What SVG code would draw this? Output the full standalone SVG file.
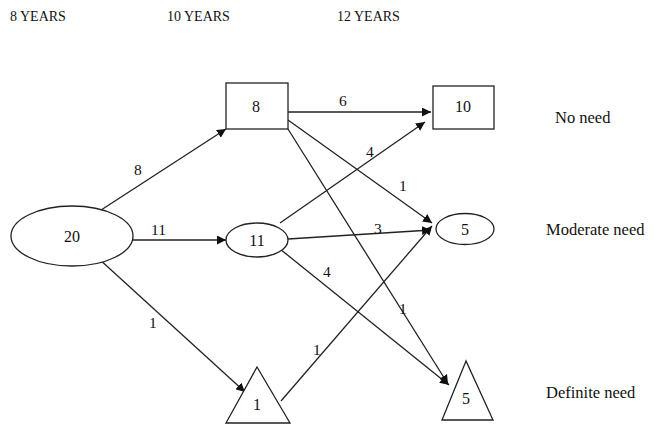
<svg xmlns="http://www.w3.org/2000/svg" width="662" height="425" viewBox="0 0 662 425">
<style>
text{font-family:"Liberation Serif","Times New Roman",serif;font-size:15.5px;fill:#111}
.hd{font-size:14px}
.nd{font-size:16px}
.rl{font-size:16.5px}
.shape{fill:#fff;stroke:#222;stroke-width:1.3}
.edge{stroke:#222;stroke-width:1.3;fill:none;marker-end:url(#ah)}
.c{text-anchor:middle}
</style>
<defs>
<marker id="ah" viewBox="0 0 10 10" refX="10" refY="5" markerWidth="9" markerHeight="9" markerUnits="userSpaceOnUse" orient="auto">
<path d="M0,0 L10,5 L0,10 z" fill="#111"/>
</marker>
</defs>
<rect width="662" height="425" fill="#fff"/>
<g id="headers">
<text class="hd" x="10" y="21">8 YEARS</text>
<text class="hd" x="167" y="21">10 YEARS</text>
<text class="hd" x="337" y="21">12 YEARS</text>
</g>
<g id="connectors">
<line class="edge" x1="98" y1="212" x2="226" y2="129"/>
<line class="edge" x1="115" y1="240" x2="226" y2="240"/>
<line class="edge" x1="98" y1="258" x2="245" y2="392"/>
<line class="edge" x1="288" y1="112" x2="431" y2="112"/>
<line class="edge" x1="288" y1="120" x2="432" y2="223"/>
<line class="edge" x1="288" y1="129" x2="448" y2="384"/>
<line class="edge" x1="280" y1="223" x2="425" y2="122"/>
<line class="edge" x1="288" y1="239" x2="431" y2="230"/>
<line class="edge" x1="280" y1="249" x2="449" y2="385"/>
<line class="edge" x1="281" y1="401" x2="432" y2="226"/>
<text x="134" y="175">8</text>
<text x="151" y="235">11</text>
<text x="149" y="328">1</text>
<text x="339" y="106">6</text>
<text x="366" y="157">4</text>
<text x="399" y="191">1</text>
<text x="399" y="314">1</text>
<text x="374" y="234">3</text>
<text x="323" y="277">4</text>
<text x="313" y="355">1</text>
</g>
<g id="n20">
<ellipse class="shape" cx="72" cy="236" rx="61" ry="30"/>
<text class="c nd" x="72" y="242">20</text>
</g>
<g id="n8">
<rect class="shape" x="226" y="83" width="62" height="46"/>
<text class="c nd" x="256" y="112">8</text>
</g>
<g id="n11">
<ellipse class="shape" cx="257" cy="240" rx="31" ry="17"/>
<text class="c nd" x="257" y="246">11</text>
</g>
<g id="n1">
<polygon class="shape" points="257,367 226,423 290,423"/>
<text class="c nd" x="257" y="410">1</text>
</g>
<g id="n10">
<rect class="shape" x="433" y="86" width="61" height="43"/>
<text class="c nd" x="463" y="112">10</text>
</g>
<g id="n5m">
<ellipse class="shape" cx="465" cy="229" rx="29" ry="15.5"/>
<text class="c nd" x="465" y="235">5</text>
</g>
<g id="n5d">
<polygon class="shape" points="466,361 442,420 493,420"/>
<text class="c nd" x="466" y="404">5</text>
</g>
<g id="rowlabels">
<text class="rl" x="555" y="123">No need</text>
<text class="rl" x="546" y="235">Moderate need</text>
<text class="rl" x="546" y="398">Definite need</text>
</g>
</svg>
